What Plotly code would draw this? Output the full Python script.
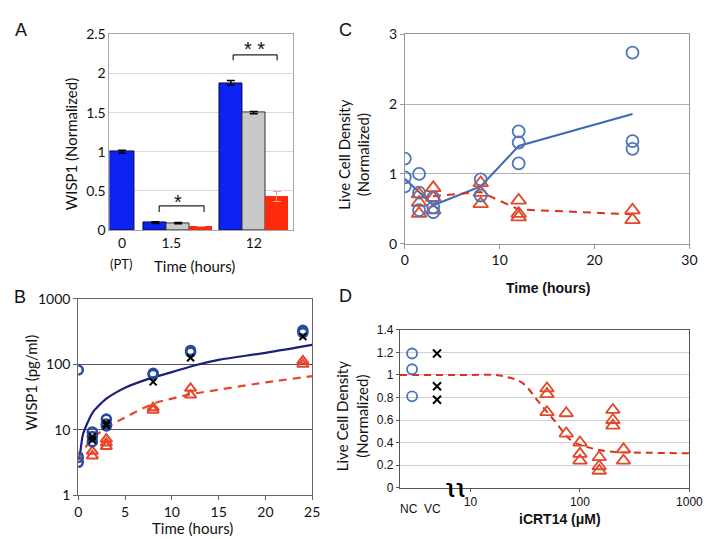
import plotly.graph_objects as go

W, H = 712, 539
def px(x): return x / W
def py(y): return 1 - y / H

CAL = "Lato, 'Open Sans', sans-serif"
ARI = "'Liberation Sans', Arial, sans-serif"

# ---------------- Panel A data ----------------
a_groups = ["0", "1.5", "12"]
a_centers = [0.55, 3.0, 6.3]          # group centre positions on A's x axis
a_blue = [1.00, 0.095, 1.88]
a_blue_err = [0.02, 0.012, 0.03]
a_gray = [0.09, 1.50]                  # groups 1.5 and 12
a_gray_err = [0.008, 0.015]
a_red = [0.05, 0.43]
a_red_err = [0.0, 0.06]

# ---------------- Panel B data ----------------
b_t_blue = [0, 0, 0, 1.5, 1.5, 1.5, 3, 3, 3, 8, 8, 12, 12, 24, 24]
b_blue = [82, 3.8, 3.2, 9.3, 7.9, 6.6, 14.6, 12.3, 11.5, 73, 70, 163, 153, 330, 305]
b_t_x = [1.5, 1.5, 3, 3, 8, 12, 24]
b_x = [7.9, 7.0, 11.7, 12.5, 54, 126, 265]
b_t_red = [1.5, 1.5, 3, 3, 3, 8, 8, 12, 12, 24, 24]
b_red = [4.7, 4.0, 7.2, 6.3, 5.6, 21.8, 20, 43, 34, 113, 100]
b_fit_t = [0, 0.2, 0.5, 1, 1.6, 2, 3, 4, 5, 7.5, 10, 12.5, 15, 20, 25]
b_fit_blue = [3.5, 4.5, 8.5, 13, 19, 22, 30, 37, 44, 60, 76, 97, 117, 150, 198]
b_fit_red_t = [0, 1, 2, 3, 4, 5, 8, 10, 12, 15, 18, 20, 25]
b_fit_red = [3.5, 6.0, 8.5, 10.5, 13, 15.5, 25, 30, 35, 41, 48, 53, 66]

# ---------------- Panel C data ----------------
c_t_blue = [0, 0, 0, 1.5, 1.5, 1.5, 3, 3, 3, 8, 8, 12, 12, 12, 24, 24, 24]
c_blue = [1.22, 0.95, 0.82, 1.0, 0.73, 0.48, 0.66, 0.52, 0.45, 0.92, 0.69,
          1.61, 1.45, 1.15, 2.74, 1.47, 1.36]
c_t_red = [1.5, 1.5, 1.5, 3, 3, 3, 8, 8, 8, 12, 12, 12, 24, 24]
c_red = [0.71, 0.59, 0.43, 0.80, 0.66, 0.48, 0.87, 0.73, 0.57, 0.62, 0.43, 0.38, 0.48, 0.34]
c_line_t = [0, 1.5, 3, 8, 12, 24]
c_line_blue = [0.93, 0.74, 0.55, 0.82, 1.40, 1.86]
c_rline_t = [1.5, 3, 8, 12, 24]
c_line_red = [0.66, 0.68, 0.74, 0.49, 0.42]

# ---------------- Panel D data ----------------
d_nc_pos, d_vc_pos = 2.93, 4.95       # category positions on broken log axis
d_nc = [1.19, 1.05, 0.81]
d_vc = [1.19, 0.90, 0.78]
d_conc = [50, 50, 50, 75, 75, 100, 100, 100, 150, 150, 150, 200, 200, 200, 250, 250]
d_red = [0.88, 0.83, 0.67, 0.66, 0.48, 0.40, 0.30, 0.24, 0.27, 0.19, 0.15,
         0.69, 0.60, 0.55, 0.34, 0.24]
d_fit_x = [2.27, 10, 16.7, 22, 29.8, 42, 59, 83, 117, 188, 400, 1000]
d_fit_y = [1.0, 1.0, 1.0, 0.98, 0.93, 0.76, 0.59, 0.42, 0.36, 0.32, 0.31, 0.305]

BLUE_BAR, GRAY_BAR, RED_BAR = "#0b22f2", "#c9c9c9", "#ff2a0c"

fig = go.Figure()

# ---- A: bars ----
blue_x = [a_centers[0], a_centers[1] - 1, a_centers[2] - 1]
fig.add_trace(go.Bar(x=blue_x, y=a_blue, width=[1.1, 1.0, 1.0],
                     marker=dict(color=BLUE_BAR, line=dict(color="#101040", width=1)),
                     error_y=dict(type="data", array=a_blue_err, color="black",
                                  thickness=1.5, width=4),
                     xaxis="x", yaxis="y", showlegend=False))
fig.add_trace(go.Bar(x=[a_centers[1], a_centers[2]], y=a_gray, width=1.0,
                     marker=dict(color=GRAY_BAR, line=dict(color="#303030", width=1)),
                     error_y=dict(type="data", array=a_gray_err, color="black",
                                  thickness=1.5, width=4),
                     xaxis="x", yaxis="y", showlegend=False))
fig.add_trace(go.Bar(x=[a_centers[1] + 1, a_centers[2] + 1], y=a_red, width=1.0,
                     marker=dict(color=RED_BAR, line=dict(width=0)),
                     error_y=dict(type="data", array=a_red_err, color="#f5a08f",
                                  thickness=1, width=4),
                     xaxis="x", yaxis="y", showlegend=False))

# ---- B ----
B_BLUE, B_NAVY, B_RED = "#2a4a9e", "#1c1f7a", "#e8452c"
fig.add_trace(go.Scatter(x=b_fit_t, y=b_fit_blue, mode="lines",
                         line=dict(color=B_NAVY, width=2.2, shape="spline"),
                         xaxis="x2", yaxis="y2", showlegend=False))
fig.add_trace(go.Scatter(x=b_fit_red_t, y=b_fit_red, mode="lines",
                         line=dict(color=B_RED, width=2.2, dash="8px,6px", shape="spline"),
                         xaxis="x2", yaxis="y2", showlegend=False))
fig.add_trace(go.Scatter(x=b_t_red, y=b_red, mode="markers",
                         marker=dict(symbol="triangle-up-open", size=10, color=B_RED,
                                     line=dict(width=2)),
                         xaxis="x2", yaxis="y2", showlegend=False))
fig.add_trace(go.Scatter(x=b_t_blue, y=b_blue, mode="markers",
                         marker=dict(symbol="circle-open", size=9, color=B_BLUE,
                                     line=dict(width=2.6)),
                         xaxis="x2", yaxis="y2", showlegend=False))
fig.add_trace(go.Scatter(x=b_t_x, y=b_x, mode="markers",
                         marker=dict(symbol="x-thin-open", size=7, color="black",
                                     line=dict(width=2)),
                         xaxis="x2", yaxis="y2", showlegend=False))

# ---- C ----
C_BLUE, C_RED = "#4d74bd", "#e04a2a"
fig.add_trace(go.Scatter(x=c_line_t, y=c_line_blue, mode="lines",
                         line=dict(color="#3f68b5", width=2),
                         xaxis="x3", yaxis="y3", showlegend=False))
fig.add_trace(go.Scatter(x=c_rline_t, y=c_line_red, mode="lines",
                         line=dict(color="#e0301a", width=2, dash="8px,6px"),
                         xaxis="x3", yaxis="y3", showlegend=False))
fig.add_trace(go.Scatter(x=c_t_red, y=c_red, mode="markers",
                         marker=dict(symbol="triangle-up-open", size=13, color=C_RED,
                                     line=dict(width=1.8)),
                         xaxis="x3", yaxis="y3", showlegend=False))
fig.add_trace(go.Scatter(x=c_t_blue, y=c_blue, mode="markers",
                         marker=dict(symbol="circle-open", size=12, color=C_BLUE,
                                     line=dict(width=1.8)),
                         xaxis="x3", yaxis="y3", showlegend=False))

# ---- D ----
fig.add_trace(go.Scatter(x=d_fit_x, y=d_fit_y, mode="lines",
                         line=dict(color="#e0301a", width=2, dash="7px,5px", shape="spline"),
                         xaxis="x4", yaxis="y4", showlegend=False))
fig.add_trace(go.Scatter(x=d_conc, y=d_red, mode="markers",
                         marker=dict(symbol="triangle-up-open", size=12, color=C_RED,
                                     line=dict(width=1.8)),
                         xaxis="x4", yaxis="y4", showlegend=False))
fig.add_trace(go.Scatter(x=[d_nc_pos] * len(d_nc), y=d_nc, mode="markers",
                         marker=dict(symbol="circle-open", size=10, color=C_BLUE,
                                     line=dict(width=1.8)),
                         xaxis="x4", yaxis="y4", showlegend=False))
fig.add_trace(go.Scatter(x=[d_vc_pos] * len(d_vc), y=d_vc, mode="markers",
                         marker=dict(symbol="x-thin-open", size=8, color="black",
                                     line=dict(width=2)),
                         xaxis="x4", yaxis="y4", showlegend=False))

tickf = dict(family=CAL, size=14, color="#111")
tickfD = dict(family=ARI, size=12, color="#111")

fig.update_layout(
    width=W, height=H, margin=dict(l=0, r=0, t=0, b=0),
    paper_bgcolor="white", plot_bgcolor="white", bargap=0,
    xaxis=dict(domain=[px(100), px(288)], anchor="y", range=[0, 8],
               tickvals=a_centers[:1] + [2.7, a_centers[2]], ticktext=a_groups,
               tickfont=tickf, showgrid=False, zeroline=False,
               showline=True, linecolor="#a8a8a8", mirror=True, ticks=""),
    yaxis=dict(domain=[py(220), py(18)], anchor="x", range=[0, 2.5], dtick=0.5,
               tickvals=[0, 0.5, 1, 1.5, 2, 2.5], ticktext=["0", "0.5", "1", "1.5", "2", "2.5"],
               tickfont=tickf, showgrid=True, gridcolor="#dadada", zeroline=False,
               showline=True, linecolor="#a8a8a8", mirror=True, ticks=""),
    xaxis2=dict(domain=[px(68), px(308)], anchor="y2", range=[0, 25], dtick=5,
                tickfont=tickf, showgrid=False, zeroline=False,
                showline=True, linecolor="#666", mirror=True,
                ticks="outside", ticklen=4, tickcolor="#666"),
    yaxis2=dict(domain=[py(494), py(291)], anchor="x2", type="log", range=[0, 3],
                tickvals=[1, 10, 100, 1000], ticktext=["1", "10", "100", "1000"],
                tickfont=tickf, showgrid=True, gridcolor="#555", gridwidth=1.3,
                zeroline=False, showline=True, linecolor="#666", mirror=True,
                ticks="outside", ticklen=4, tickcolor="#666"),
    xaxis3=dict(domain=[px(403), px(695)], anchor="y3", range=[0, 30], dtick=10,
                tickfont=tickf, showgrid=False, zeroline=False,
                showline=True, linecolor="#999", mirror=True,
                ticks="outside", ticklen=4, tickcolor="#999"),
    yaxis3=dict(domain=[py(234), py(18)], anchor="x3", range=[0, 3], dtick=1,
                tickfont=tickf, showgrid=True, gridcolor="#b0b0b0", gridwidth=1.3,
                zeroline=False, showline=True, linecolor="#999", mirror=True,
                ticks="outside", ticklen=4, tickcolor="#999"),
    xaxis4=dict(domain=[px(398), px(695)], anchor="y4", type="log",
                range=[0.356, 3], tickvals=[10, 100, 1000], ticktext=["10", "100", "1000"],
                tickfont=tickfD, showgrid=False, zeroline=False,
                showline=True, linecolor="#555", mirror=True,
                ticks="outside", ticklen=3, tickcolor="#555"),
    yaxis4=dict(domain=[py(486), py(323)], anchor="x4", range=[0, 1.4],
                tickvals=[0, 0.2, 0.4, 0.6, 0.8, 1.0, 1.2, 1.4],
                ticktext=["0", "0.2", "0.4", "0.6", "0.8", "1", "1.2", "1.4"],
                tickfont=tickfD, showgrid=True, gridcolor="#d0d0d0",
                zeroline=False, showline=True, linecolor="#555", mirror=True,
                ticks="outside", ticklen=3, tickcolor="#555"),
)

# significance brackets in A
for (x0, x1, ytop, ybot) in [(2.17, 4.13, 0.31, 0.23), (5.40, 7.32, 2.24, 2.17)]:
    fig.add_shape(type="line", xref="x", yref="y", x0=x0, x1=x1, y0=ytop, y1=ytop,
                  line=dict(color="#222", width=1.2))
    fig.add_shape(type="line", xref="x", yref="y", x0=x0, x1=x0, y0=ytop, y1=ybot,
                  line=dict(color="#222", width=1.2))
    fig.add_shape(type="line", xref="x", yref="y", x0=x1, x1=x1, y0=ytop, y1=ybot,
                  line=dict(color="#222", width=1.2))

ann = []
def A(text, x, y, size=15, family=CAL, angle=0, bold=False, color="#111", xa="center"):
    t = f"<b>{text}</b>" if bold else text
    ann.append(dict(text=t, x=px(x), y=py(y), xref="paper", yref="paper",
                    showarrow=False, font=dict(family=family, size=size, color=color),
                    textangle=angle, xanchor=xa, yanchor="middle"))

A("*", 170, 191, size=20, family=ARI)
A("* *", 249, 33, size=20, family=ARI)
# panel letters
A("A", 9, 13, size=18, family=ARI)
A("C", 342, 13, size=18, family=ARI)
A("B", 8, 289, size=18, family=ARI)
A("D", 342, 288, size=18, family=ARI)
# A titles
A("WISP1 (Normalized)", 60, 131, size=15, angle=-90)
A("(PT)", 112, 255, size=13)
A("Time (hours)", 187, 257, size=15)
# B titles
A("WISP1 (pg/ml)", 20, 377, size=15, angle=-90)
A("Time (hours)", 185, 528, size=15)
# C titles
A("Live Cell Density<br>(Normalized)", 350, 142, size=15, angle=-90)
A("Time (hours)", 550, 280, size=14, family=ARI, bold=True)
# D titles
A("Live Cell Density<br>(Normalized)", 349, 412, size=15, angle=-90)
A("iCRT14 (μM)", 562, 518, size=14, family=ARI, bold=True)
A("NC", 407, 508, size=12, family=ARI)
A("VC", 431, 508, size=12, family=ARI)
A("<b>ʅʅ</b>", 455, 485, size=17, family="DejaVu Sans", color="black")

fig.update_layout(annotations=ann)
fig.write_html("out.html")
